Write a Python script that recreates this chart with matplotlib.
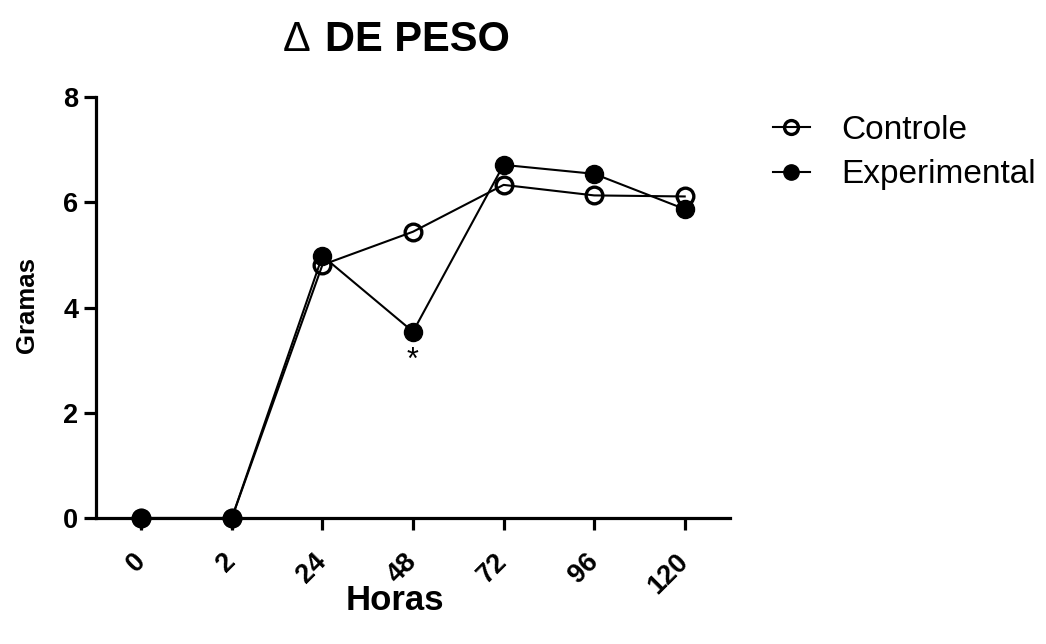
import matplotlib
matplotlib.use("Agg")
import matplotlib.pyplot as plt
from matplotlib.lines import Line2D

# Weight change over time (grams)
horas = ["0", "2", "24", "48", "72", "96", "120"]
controle = [0.0, 0.0, 4.81, 5.44, 6.33, 6.13, 6.11]
experimental = [0.0, 0.0, 4.98, 3.54, 6.71, 6.54, 5.87]
signif_idx = 3  # time point marked as significant

plt.rcParams["font.family"] = ["Liberation Sans", "DejaVu Sans"]

fig = plt.figure(figsize=(10.46, 6.44), dpi=100)
ax = fig.add_axes([96 / 1046, 1 - 518 / 644, (730 - 96) / 1046, (518 - 97) / 644])

x = list(range(len(horas)))

ax.plot(x, controle, color="black", lw=1.5, marker="o", ms=12,
        mfc="none", mec="black", mew=2.4, clip_on=False, zorder=3)
ax.plot(x, experimental, color="black", lw=1.5, marker="o", ms=13,
        mfc="black", mec="black", clip_on=False, zorder=4)

ax.text(x[signif_idx], experimental[signif_idx] - 0.71, "*", ha="center",
        va="baseline", fontsize=22, color="black")

ax.set_xlim(-0.5, 6.5)
ax.set_ylim(0, 8)
ax.set_yticks([0, 2, 4, 6, 8])
ax.set_xticks(x)
ax.set_xticklabels(horas, rotation=45, ha="right", va="center",
                   rotation_mode="anchor")

for s in ("top", "right"):
    ax.spines[s].set_visible(False)
for s in ("left", "bottom"):
    ax.spines[s].set_linewidth(2.3)

ax.tick_params(axis="both", width=2.3, length=8.6, labelsize=19.5)
ax.tick_params(axis="y", pad=4)
ax.tick_params(axis="x", pad=20)
for lbl in ax.get_xticklabels() + ax.get_yticklabels():
    lbl.set_fontweight("bold")

fig.text(395 / 1046, 1 - 601 / 644, "Horas", ha="center", va="center",
         fontsize=25, fontweight="bold")
fig.text(27 / 1046, 1 - 305 / 644, "Gramas", ha="center", va="center",
         rotation=90, fontsize=18.5, fontweight="bold")

# Title: delta symbol in regular weight followed by bold text
fig.text(283 / 1046, 1 - 40 / 644, "\u0394", ha="left", va="center",
         fontsize=30)
fig.text(325 / 1046, 1 - 40 / 644, "DE PESO", ha="left", va="center",
         fontsize=30, fontweight="bold")

handles = [
    Line2D([], [], color="black", lw=1.5, marker="o", ms=10, mfc="none",
           mec="black", mew=2.4),
    Line2D([], [], color="black", lw=1.5, marker="o", ms=11, mfc="black",
           mec="black"),
]
fig.legend(handles, ["Controle", "Experimental"], loc="upper left",
           bbox_to_anchor=(773 / 1046, 1 - 115 / 644), frameon=False,
           fontsize=24, handlelength=1.1, handletextpad=0.95,
           labelspacing=0.4, borderpad=0, borderaxespad=0)

fig.savefig("out.png", dpi=100)
